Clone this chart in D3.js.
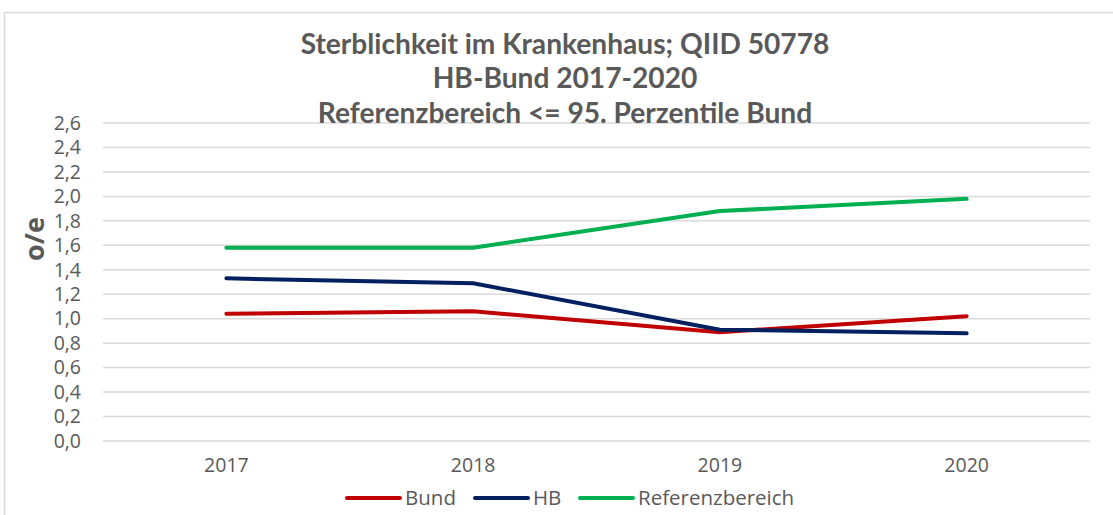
<!DOCTYPE html>
<html><head><meta charset="utf-8">
<script src="https://cdn.jsdelivr.net/npm/d3@7"></script>
<style>body{margin:0;background:#fff}svg{display:block}</style>
</head><body>
<svg id="c" width="1113" height="515"></svg>
<script>
const years = ["2017","2018","2019","2020"];
const bund = [1.04, 1.06, 0.89, 1.02];
const hb = [1.33, 1.29, 0.91, 0.88];
const referenz = [1.58, 1.58, 1.88, 1.98];
const yTicks = [0,0.2,0.4,0.6,0.8,1.0,1.2,1.4,1.6,1.8,2.0,2.2,2.4,2.6];
const titleLines = ["Sterblichkeit im Krankenhaus; QIID 50778","HB-Bund 2017-2020","Referenzbereich <= 95. Perzentile Bund"];
const seriesNames = ["Bund","HB","Referenzbereich"];
const colors = ["#C00000","#002060","#00B050"];

const svg = d3.select("#c");
const gray = "#595959";
const lblFont = "'Open Sans', sans-serif";
const lblSize = "19.5px";
svg.append("rect").attr("x",4.5).attr("y",12.5).attr("width",1120).attr("height",520)
  .attr("fill","none").attr("stroke","#d9d9d9").attr("stroke-width",1.5);

const x = d3.scaleBand().domain(years).range([103,1090]);
const y = d3.scaleLinear().domain([0,2.6]).range([441,123]);

svg.append("g").selectAll("line").data(yTicks).join("line")
  .attr("x1",103).attr("x2",1090)
  .attr("y1",d=>y(d)).attr("y2",d=>y(d))
  .attr("stroke","#d9d9d9").attr("stroke-width",1.5);

const ya = svg.append("g").attr("transform","translate(103,0)")
  .call(d3.axisLeft(y).tickValues(yTicks).tickSize(0).tickPadding(22)
    .tickFormat(d=>d3.format(".1f")(d).replace(".",",")));
ya.select(".domain").remove();
ya.attr("font-family",null).attr("font-size",null);
ya.selectAll("text").attr("fill",gray).attr("font-family",lblFont).attr("font-size",lblSize);

const xa = svg.append("g").attr("transform","translate(0,441)")
  .call(d3.axisBottom(x).tickSize(0).tickPadding(17));
xa.select(".domain").remove();
xa.attr("font-family",null).attr("font-size",null);
xa.selectAll("text").attr("fill",gray).attr("font-family",lblFont).attr("font-size",lblSize);

svg.append("text").attr("transform","translate(44,239) rotate(-90)")
  .attr("text-anchor","middle").attr("fill",gray)
  .attr("font-family",lblFont).attr("font-weight","bold").attr("font-size","27px").text("o/e");

const line = d3.line().x((d,i)=>x(years[i])+x.bandwidth()/2).y(d=>y(d));
[bund,hb,referenz].forEach((s,i)=>{
  svg.append("path").datum(s).attr("d",line).attr("fill","none")
    .attr("stroke",colors[i]).attr("stroke-width",4).attr("stroke-linecap","round").attr("stroke-linejoin","round");
});

const tY = [45,79,114];
const tNodes = titleLines.map((t,i)=>svg.append("text").attr("x",565).attr("y",tY[i]+9).attr("text-anchor","middle")
    .attr("fill",gray).attr("font-family","Lato, sans-serif").attr("font-weight","bold").attr("font-size","26px").text(t).node());
{
  const w = tNodes[0].getComputedTextLength();
  const fs = 26*529/w;
  tNodes.forEach(n=>n.setAttribute("font-size",fs));
}

const legX = [347,475,580];
seriesNames.forEach((n,i)=>{
  svg.append("line").attr("x1",legX[i]).attr("x2",legX[i]+53).attr("y1",498).attr("y2",498)
    .attr("stroke",colors[i]).attr("stroke-width",4).attr("stroke-linecap","round");
  svg.append("text").attr("x",legX[i]+58).attr("y",505).attr("fill",gray)
    .attr("font-family",lblFont).attr("font-size","20.5px").text(n);
});
</script>
</body></html>
